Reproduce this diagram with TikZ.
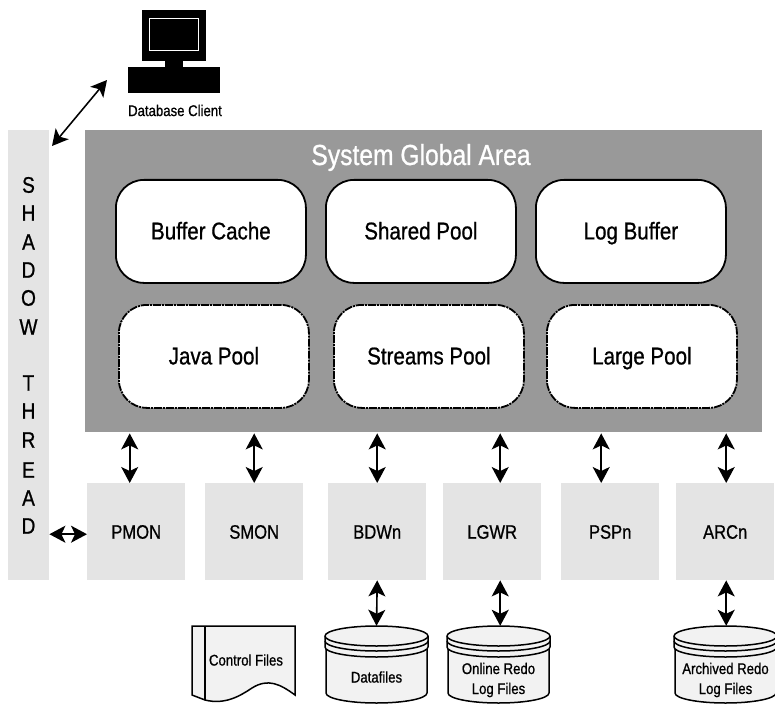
\documentclass[tikz,border=0pt]{standalone}
\usepackage{fontspec}
\setmainfont[FakeStretch=0.85,FakeBold=0.8]{Liberation Sans}
\usetikzlibrary{arrows.meta,calc}
\definecolor{lightbox}{gray}{0.895}
\definecolor{sgagray}{gray}{0.6}
\definecolor{cylfill}{gray}{0.95}
\tikzset{
 x=1pt,y=-1pt,
 sgabox/.style={fill=sgagray,anchor=north west,minimum width=677,minimum height=302,inner sep=0},
 pool/.style={draw=black,fill=white,line width=1.8,rounded corners=28,anchor=north west,minimum width=190,minimum height=103,inner sep=0,text height=16,text depth=0,font=\fontsize{24.2}{28}\selectfont},
 optpool/.style={pool,dash pattern=on 8 off 1 on 2 off 1},
 proc/.style={fill=lightbox,anchor=north west,minimum width=98,minimum height=97,inner sep=0,text height=14,text depth=0,font=\fontsize{19.5}{23}\selectfont},
 link/.style={line width=1.6,{Stealth[length=16,width=17,inset=4]}-{Stealth[length=16,width=17,inset=4]}},
 small/.style={font=\fontsize{15.5}{20}\selectfont,align=center,inner sep=0},
 shapeline/.style={draw=black,fill=cylfill,line width=1.5},
}
\newcommand{\dbcyl}[4]{%
 \path[shapeline] (#1+1,636) -- (#1+102,636) -- (#1+102,693) arc[start angle=0,end angle=180,x radius=50.5,y radius=10] -- cycle;
 \path[shapeline] (#1,647) arc[start angle=180,end angle=0,x radius=51.5,y radius=10] -- (#1+103,636)
   arc[start angle=0,end angle=180,x radius=51.5,y radius=-10] -- cycle;
 \draw[line width=1.5] (#1,636) arc[start angle=180,end angle=0,x radius=51.5,y radius=10];
 \draw[line width=1.5] (#1,641) arc[start angle=180,end angle=0,x radius=51.5,y radius=10];
 \node[small,anchor=center,minimum width=103,minimum height=77] (#2) at (#1+51.5,664.5) {};
 \node[small] (#2t) at (#1+51.5,#4) {#3};
}
\begin{document}
\begin{tikzpicture}
\useasboundingbox (0,0) rectangle (775,703);
% client
\fill[black] (142,10) rectangle (206,61);
\draw[white,line width=1] (149.5,18.5) rectangle (198.5,51);
\fill[black] (165,60) rectangle (183,68);
\fill[black] (128,67) rectangle (220,93);
\node[small] (client) at (175,110.5) {Database Client};
% areas
\node[sgabox] (sga) at (85,130) {};
\node[anchor=center,text=white,inner sep=0,text height=18,text depth=0,font=\fontsize{29}{34}\selectfont] (sgat) at (421,156) {System Global Area};
\node[fill=lightbox,anchor=north west,minimum width=41,minimum height=450,inner sep=0] (shadow) at (8,130) {};
\foreach \l/\y in {S/185,H/213,A/242,D/270,O/298,W/327,T/383,H/411,R/440,E/470,A/498,D/526}
 \node[font=\fontsize{22.5}{26}\selectfont,inner sep=0] at (28.5,\y) {\l};
% pools
\node[pool] (buffer) at (115,179) {Buffer Cache};
\node[pool] (shared) at (325,179) {Shared Pool};
\node[pool] (logbuf) at (535,179) {Log Buffer};
\node[optpool] (java) at (118,304) {Java Pool};
\node[optpool] (streams) at (333,304) {Streams Pool};
\node[optpool] (large) at (546,304) {Large Pool};
% processes
\node[proc] (pmon) at (87,483) {PMON};
\node[proc] (smon) at (205,483) {SMON};
\node[proc] (bdwn) at (328,483) {BDWn};
\node[proc] (lgwr) at (443,483) {LGWR};
\node[proc] (pspn) at (561,483) {PSPn};
\node[proc] (arcn) at (676,483) {ARCn};
% storage
\path[shapeline] (192,626) -- (295,626) -- (295,695)
  .. controls (280,684) and (268,678) .. (252,688)
  .. controls (240,696) and (225,705) .. (205,700)
  -- (192,695) -- cycle;
\draw[line width=1.5] (205,626) -- (205,700);
\node[small] (control) at (246,660) {Control Files};
\dbcyl{325}{data}{Datafiles}{677}
\dbcyl{447}{redo}{Online Redo\\Log Files}{680}
\dbcyl{674}{arch}{Archived Redo\\Log Files}{680}
% links
\coordinate (clientend) at (107,80);
\coordinate (shadowend) at (52,146);
\draw[link] (clientend) -- (shadowend);
\draw[link] ([yshift=-2.5]shadow.east |- pmon.west) -- ([yshift=-2.5]pmon.west);
\foreach \n/\dx in {pmon/-6.5,smon/0,bdwn/0,lgwr/8,pspn/-9,arcn/1}
 \draw[link] ([xshift=\dx]\n.north |- sga.south) ++(0,1) -- ([xshift=\dx]\n.north);
\draw[link] (bdwn.south) -- (data.north);
\draw[link] ([xshift=8]lgwr.south) -- ([xshift=8]lgwr.south |- redo.north);
\draw[link] ([xshift=1]arcn.south) -- ([xshift=1]arcn.south |- arch.north);
\end{tikzpicture}
\end{document}
